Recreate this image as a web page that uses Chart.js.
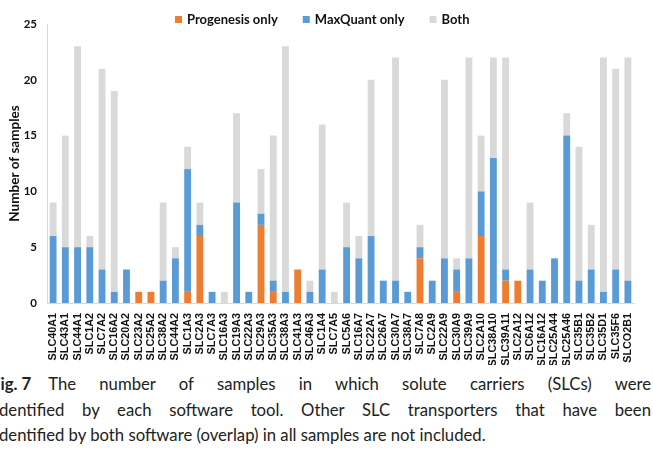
<!DOCTYPE html>
<html>
<head>
<meta charset="utf-8">
<script src="https://cdn.jsdelivr.net/npm/chart.js@4"></script>
<style>
  html, body { margin: 0; padding: 0; background: #fff; }
  body { width: 653px; height: 464px; position: relative; overflow: hidden; }
  #wrap { position: absolute; left: 0; top: 0; width: 653px; height: 365px; }
  #caption {
    position: absolute; left: -9px; top: 372px; width: 660px;
    font-family: Lato, "Open Sans", sans-serif; font-size: 16.7px; line-height: 25.5px;
    color: #222;
  }
  #caption .j { text-align: justify; text-align-last: justify; }
  #caption .last { margin-left: 4px; }
  #caption b { font-weight: bold; display: inline-block; white-space: pre; margin-right: 17px; }
</style>
</head>
<body>
<div id="wrap"><canvas id="grafico" width="653" height="365"></canvas></div>
<div id="caption">
  <div class="j"><b>Fig. 7</b>The number of samples in which solute carriers (SLCs) were</div>
  <div class="j" style="margin-left:4px">identified by each software tool. Other SLC transporters that have been</div>
  <div class="last">identified by both software (overlap) in all samples are not included.</div>
</div>
<script>
// categorias (transportadores SLC)
const categorias = ['SLC40A1', 'SLC43A1', 'SLC44A1', 'SLC1A2', 'SLC7A2', 'SLC16A2', 'SLC20A2', 'SLC23A2',
  'SLC25A2', 'SLC38A2', 'SLC44A2', 'SLC1A3', 'SLC2A3', 'SLC7A3', 'SLC16A3', 'SLC19A3', 'SLC22A3',
  'SLC29A3', 'SLC35A3', 'SLC38A3', 'SLC41A3', 'SLC46A3', 'SLC1A4', 'SLC7A5', 'SLC5A6', 'SLC16A7',
  'SLC22A7', 'SLC26A7', 'SLC30A7', 'SLC38A7', 'SLC7A8', 'SLC2A9', 'SLC22A9', 'SLC30A9', 'SLC39A9',
  'SLC2A10', 'SLC38A10', 'SLC39A11', 'SLC2A12', 'SLC6A12', 'SLC16A12', 'SLC25A44', 'SLC25A46',
  'SLC35B1', 'SLC35B2', 'SLC35D1', 'SLC35F6', 'SLCO2B1'];

// valores por serie
const progenesisOnly = [0, 0, 0, 0, 0, 0, 0, 1, 1, 0, 0, 1, 6, 0, 0, 0, 0, 7, 1, 0, 3, 0, 0, 0,
  0, 0, 0, 0, 0, 0, 4, 0, 0, 1, 0, 6, 0, 2, 2, 0, 0, 0, 0, 0, 0, 0, 0, 0];
const maxQuantOnly = [6, 5, 5, 5, 3, 1, 3, 0, 0, 2, 4, 11, 1, 1, 0, 9, 1, 1, 1, 1, 0, 1, 3, 0,
  5, 4, 6, 2, 2, 1, 1, 2, 4, 2, 4, 4, 13, 1, 0, 3, 2, 4, 15, 2, 3, 1, 3, 2];
const both = [3, 10, 18, 1, 18, 18, 0, 0, 0, 7, 1, 2, 2, 0, 1, 8, 0, 4, 13, 22, 0, 1, 13, 1,
  4, 2, 14, 0, 20, 0, 2, 0, 16, 1, 18, 5, 9, 19, 0, 6, 0, 0, 2, 12, 4, 21, 18, 20];

const series = ['Progenesis only', 'MaxQuant only', 'Both'];
const colores = ['#ED7D31', '#5B9BD5', '#D9D9D9'];
const yMax = 25;
const yStep = 5;

// leyenda dibujada a mano encima del area del grafico
const leyenda = {
  id: 'leyenda',
  afterDraw(chart) {
    const ctx = chart.ctx;
    ctx.save();
    ctx.font = 'bold 13px Lato, sans-serif';
    ctx.textBaseline = 'middle';
    let x = 175;
    const y = 20;
    chart.data.datasets.forEach(ds => {
      ctx.fillStyle = ds.backgroundColor;
      ctx.fillRect(x, y - 4, 7, 7);
      x += 12;
      ctx.fillStyle = '#111';
      ctx.fillText(ds.label, x, y);
      x += ctx.measureText(ds.label).width + 25;
    });
    ctx.restore();
  }
};

const ctx = document.getElementById('grafico').getContext('2d');
new Chart(ctx, {
  type: 'bar',
  data: {
    labels: categorias,
    datasets: [progenesisOnly, maxQuantOnly, both].map((vals, i) => ({
      label: series[i],
      data: vals,
      backgroundColor: colores[i],
      borderWidth: 0,
      categoryPercentage: 1,
      barPercentage: 0.56
    }))
  },
  options: {
    responsive: false,
    animation: false,
    layout: { padding: { top: 24, right: 19, left: 0, bottom: 0 } },
    plugins: { legend: { display: false }, tooltip: { enabled: false } },
    scales: {
      x: {
        stacked: true,
        grid: { display: false },
        border: { display: true, color: '#D9D9D9' },
        ticks: {
          autoSkip: false, minRotation: 90, maxRotation: 90, padding: 2,
          color: '#111', font: { family: 'Liberation Sans, Arial, sans-serif', weight: 'bold', size: 10.8 }
        },
        afterFit(scale) { scale.height = 62; }
      },
      y: {
        stacked: true,
        min: 0,
        max: yMax,
        grid: { display: false, drawTicks: false },
        border: { display: true, color: '#D9D9D9' },
        ticks: {
          stepSize: yStep, padding: 10,
          color: '#111', font: { family: 'Lato, sans-serif', weight: 'bold', size: 11.5 }
        },
        title: {
          display: true, text: 'Number of samples', color: '#111',
          padding: { top: 7, bottom: 0 },
          font: { family: 'Lato, sans-serif', weight: 'bold', size: 13.5 }
        },
        afterFit(scale) { scale.width = 47; }
      }
    }
  },
  plugins: [leyenda]
});
</script>
</body>
</html>
